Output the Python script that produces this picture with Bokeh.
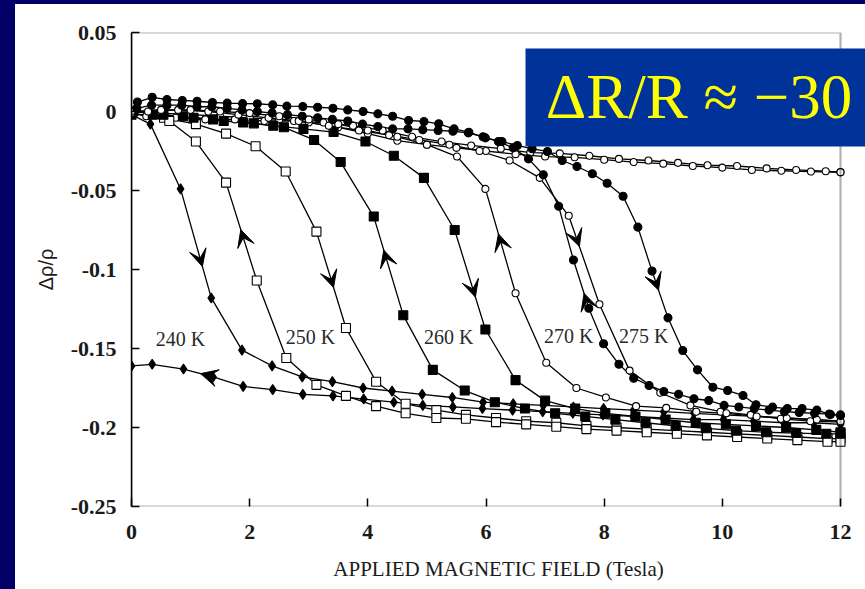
import numpy as np
from bokeh.plotting import figure
from bokeh.models import Range1d, FixedTicker, Label, BoxAnnotation, Arrow, VeeHead, Div
from bokeh.layouts import column, row
from bokeh.embed import file_html
from bokeh.resources import INLINE

# ---------------- data ----------------
x_ticks = [0, 2, 4, 6, 8, 10, 12]
x_tick_labels = ["0", "2", "4", "6", "8", "10", "12"]
y_ticks = [0.05, 0.0, -0.05, -0.1, -0.15, -0.2, -0.25]
y_tick_labels = ["0.05", "0", "-0.05", "-0.1", "-0.15", "-0.2", "-0.25"]

x_240_up = [0.00, 0.32, 0.83, 1.35, 1.87, 2.38, 2.89, 3.40, 3.92, 4.41, 4.92, 5.43, 5.95,
            6.46, 6.97, 7.48, 7.99, 8.50, 9.01, 9.52, 10.03, 10.54, 11.05, 11.56, 12.00]
y_240_up = [-0.002, -0.008, -0.049, -0.118, -0.151, -0.161, -0.168, -0.171, -0.175, -0.177,
            -0.179, -0.181, -0.184, -0.185, -0.186, -0.187, -0.188, -0.189, -0.190, -0.191,
            -0.192, -0.193, -0.194, -0.195, -0.196]
x_240_dn = [0.00, 0.35, 0.88, 1.38, 1.89, 2.39, 2.90, 3.41, 3.93, 4.44, 4.93, 5.44, 5.94,
            6.45, 6.96, 7.47, 7.98, 8.49, 9.00, 9.51, 10.02, 10.53, 11.04, 11.55, 12.00]
y_240_dn = [-0.161, -0.160, -0.163, -0.168, -0.174, -0.176, -0.179, -0.180, -0.182, -0.184,
            -0.186, -0.187, -0.188, -0.189, -0.190, -0.191, -0.192, -0.193, -0.194, -0.195,
            -0.195, -0.196, -0.197, -0.197, -0.198]

x_250_up = [0.00, 0.55, 1.09, 1.60, 2.10, 2.61, 3.13, 3.63, 4.14, 4.64, 5.16, 5.66, 6.17,
            6.68, 7.19, 7.70, 8.21, 8.72, 9.23, 9.74, 10.25, 10.76, 11.27, 11.78, 12.00]
y_250_up = [-0.001, -0.004, -0.008, -0.014, -0.022, -0.038, -0.076, -0.137, -0.171, -0.185,
            -0.189, -0.192, -0.194, -0.196, -0.197, -0.199, -0.200, -0.201, -0.202, -0.203,
            -0.204, -0.205, -0.206, -0.207, -0.207]
x_250_dn = [0.00, 0.64, 1.09, 1.60, 2.12, 2.62, 3.13, 3.63, 4.14, 4.64, 5.16, 5.66, 6.17,
            6.68, 7.19, 7.70, 8.21, 8.72, 9.23, 9.74, 10.25, 10.76, 11.27, 11.78, 12.00]
y_250_dn = [-0.001, -0.006, -0.019, -0.045, -0.107, -0.156, -0.173, -0.180, -0.1865, -0.191,
            -0.194, -0.1945, -0.1966, -0.198, -0.1995, -0.201, -0.202, -0.203, -0.204, -0.205,
            -0.206, -0.207, -0.208, -0.209, -0.209]

x_260_up = [0.00, 0.36, 0.87, 1.38, 1.89, 2.40, 2.91, 3.42, 3.96, 4.44, 4.95, 5.47, 5.99,
            6.50, 7.00, 7.51, 8.02, 8.53, 9.04, 9.55, 10.06, 10.57, 11.08, 11.59, 12.00]
y_260_up = [-0.002, -0.002, -0.003, -0.005, -0.007, -0.009, -0.011, -0.013, -0.019, -0.028,
            -0.042, -0.075, -0.138, -0.170, -0.183, -0.188, -0.191, -0.193, -0.195, -0.197,
            -0.198, -0.199, -0.200, -0.2015, -0.203]
x_260_dn = [0.03, 0.54, 1.05, 1.56, 2.07, 2.58, 3.09, 3.54, 4.10, 4.60, 5.10, 5.64, 6.15,
            6.66, 7.17, 7.68, 8.19, 8.70, 9.21, 9.72, 10.23, 10.74, 11.25, 11.76, 12.00]
y_260_dn = [0.000, -0.002, -0.004, -0.006, -0.0075, -0.010, -0.018, -0.032, -0.0665, -0.129,
            -0.1635, -0.1766, -0.184, -0.188, -0.191, -0.193, -0.195, -0.197, -0.199, -0.2005,
            -0.202, -0.203, -0.2035, -0.204, -0.204]

x_270_up = [0.00, 0.28, 0.79, 1.30, 1.81, 2.32, 2.83, 3.34, 3.85, 4.36, 4.87, 5.38, 5.89,
            6.40, 6.91, 7.40, 7.92, 8.43, 8.95, 9.46, 9.97, 10.48, 10.99, 11.49, 12.00]
y_270_up = [-0.001, 0.000, 0.001, 0.000, -0.002, -0.004, -0.006, -0.009, -0.012, -0.015,
            -0.018, -0.021, -0.025, -0.031, -0.042, -0.066, -0.122, -0.164, -0.178, -0.186,
            -0.190, -0.192, -0.1945, -0.196, -0.1966]
x_270_dn = [0.00, 0.50, 1.00, 1.50, 2.00, 2.50, 3.00, 3.50, 4.00, 4.50, 5.00, 5.51, 5.99,
            6.50, 7.02, 7.53, 8.03, 8.54, 9.05, 9.56, 10.07, 10.58, 11.09, 11.60, 12.00]
y_270_dn = [0.000, 0.001, 0.001, 0.000, -0.001, -0.003, -0.005, -0.008, -0.012, -0.016,
            -0.021, -0.0285, -0.049, -0.115, -0.159, -0.175, -0.181, -0.1865, -0.1876, -0.190,
            -0.191, -0.193, -0.194, -0.195, -0.196]

x_275_up = [0.10, 0.35, 0.60, 0.86, 1.11, 1.37, 1.62, 1.88, 2.13, 2.39,
            2.63, 2.90, 3.15, 3.41, 3.66, 3.92, 4.17, 4.42, 4.69, 4.95,
            5.20, 5.46, 5.71, 5.99, 6.27, 6.53, 6.78, 7.04, 7.29, 7.54,
            7.80, 8.05, 8.32, 8.57, 8.81, 9.08, 9.33, 9.58, 9.84, 10.09,
            10.35, 10.57, 10.85, 11.10, 11.35, 11.60, 11.83, 12.00]
y_275_up = [0.006, 0.009, 0.0076, 0.007, 0.0065, 0.0057, 0.0053, 0.005, 0.0049, 0.0042,
            0.0034, 0.0032, 0.0027, 0.0021, 0.001, 0.000, -0.0015, -0.003, -0.0057, -0.0063,
            -0.0078, -0.011, -0.0131, -0.0167, -0.019, -0.0215, -0.0236, -0.0253, -0.031, -0.0348,
            -0.0394, -0.0454, -0.0536, -0.0732, -0.101, -0.1306, -0.1513, -0.1635, -0.1745, -0.1766,
            -0.1797, -0.1856, -0.1871, -0.188, -0.188, -0.189, -0.1918, -0.1924]
x_275_dn = [0.09, 0.34, 0.60, 0.85, 1.11, 1.36, 1.62, 1.87, 2.13, 2.38,
            2.64, 2.89, 3.15, 3.40, 3.66, 3.91, 4.17, 4.42, 4.68, 4.93,
            5.19, 5.44, 5.70, 5.95, 6.21, 6.46, 6.72, 6.97, 7.23, 7.48,
            7.74, 7.99, 8.25, 8.50, 8.76, 9.01, 9.26, 9.52, 9.77, 10.03,
            10.28, 10.54, 10.79, 11.05, 11.30, 11.56, 11.81, 12.00]
y_275_dn = [0.002, 0.004, 0.004, 0.004, 0.003, 0.003, 0.002, 0.001, 0.000, -0.001,
            -0.002, -0.003, -0.004, -0.005, -0.006, -0.008, -0.0095, -0.011, -0.011, -0.0115,
            -0.012, -0.0125, -0.0135, -0.016, -0.019, -0.023, -0.030, -0.040, -0.060, -0.094,
            -0.1245, -0.147, -0.160, -0.1688, -0.1734, -0.1772, -0.179, -0.1818, -0.1829, -0.186,
            -0.187, -0.188, -0.189, -0.190, -0.1905, -0.191, -0.1915, -0.192]

x_hi_a = [0.0, 0.5, 1.0, 1.5, 2.0, 2.5, 3.0, 3.5, 4.0, 4.5, 5.0, 5.5, 6.0,
          6.5, 7.0, 7.5, 8.0, 8.5, 9.0, 9.5, 10.0, 10.5, 11.0, 11.5, 12.0]
y_hi_a = [0.000, -0.001, -0.002, -0.003, -0.004, -0.005, -0.007, -0.010, -0.014, -0.0185,
          -0.021, -0.023, -0.025, -0.027, -0.0285, -0.029, -0.0305, -0.032, -0.033, -0.0345,
          -0.0355, -0.037, -0.0375, -0.038, -0.0385]
x_hi_b = [0.25, 0.75, 1.25, 1.75, 2.25, 2.75, 3.25, 3.75, 4.25, 4.75, 5.25, 5.75, 6.25,
          6.75, 7.25, 7.75, 8.25, 8.75, 9.25, 9.75, 10.25, 10.75, 11.25, 11.75, 12.0]
y_hi_b = [-0.003, -0.004, -0.005, -0.005, -0.006, -0.006, -0.007, -0.009, -0.012, -0.016,
          -0.019, -0.0215, -0.0235, -0.026, -0.0265, -0.028, -0.030, -0.031, -0.0325, -0.034,
          -0.0345, -0.036, -0.037, -0.0378, -0.0384]

temp_labels = ["240 K", "250 K", "260 K", "270 K", "275 K"]
temp_label_x = [0.83, 3.03, 5.37, 7.40, 8.67]
temp_label_y = [-0.1439, -0.1429, -0.1429, -0.1418, -0.1418]

# ---------------- figure ----------------
SERIF = "Liberation Serif"
PX_PER_T = (840 - 131) / 12.0
X_END = 12 + (865 - 840) / PX_PER_T   # frame runs to the right edge so the caption box fits

p = figure(width=850, height=585, x_range=Range1d(0, X_END), y_range=Range1d(-0.25, 0.05),
           output_backend="svg", toolbar_location=None,
           min_border_left=116, min_border_right=0, min_border_top=28, min_border_bottom=83,
           background_fill_color="white", border_fill_color="white", margin=(0, 0, 0, 0))
p.grid.visible = False
p.outline_line_color = None

p.xaxis.ticker = FixedTicker(ticks=x_ticks)
p.xaxis.major_label_overrides = {t: s for t, s in zip(x_ticks, x_tick_labels)}
p.yaxis.ticker = FixedTicker(ticks=y_ticks)
p.yaxis.major_label_overrides = {t: s for t, s in zip(y_ticks, y_tick_labels)}

for ax in (p.xaxis[0], p.yaxis[0]):
    ax.axis_line_width = 1.5
    ax.axis_line_color = "black"
    ax.major_tick_in = 8
    ax.major_tick_out = 0
    ax.major_tick_line_width = 1.5
    ax.minor_tick_line_color = None
    ax.major_label_text_font = SERIF
    ax.major_label_text_font_style = "bold"
    ax.major_label_text_font_size = "22px"
    ax.major_label_text_color = "#1a1a1a"
p.xaxis.axis_line_color = None

p.xaxis.major_label_standoff = 18
p.yaxis.major_label_standoff = 15
p.xaxis.axis_label = "APPLIED MAGNETIC FIELD (Tesla)"
p.xaxis.axis_label_text_font = SERIF
p.xaxis.axis_label_text_font_style = "normal"
p.xaxis.axis_label_text_font_size = "21px"
p.xaxis.axis_label_standoff = 15
p.xaxis.axis_label_text_color = "#1a1a1a"
p.yaxis.axis_label = "Δρ/ρ"
p.yaxis.axis_label_text_font = "Liberation Sans"
p.yaxis.axis_label_text_font_style = "normal"
p.yaxis.axis_label_text_font_size = "20px"
p.yaxis.axis_label_standoff = 11
p.yaxis.axis_label_text_color = "#1a1a1a"

# plot box (0..12 T, -0.25..0.05)
p.add_layout(BoxAnnotation(left=0, right=12, top=0.05, bottom=-0.25, fill_color=None,
                           fill_alpha=0, line_color="black", line_width=2.2))

series = [
    (x_hi_a, y_hi_a, "circle", 7, "white"),
    (x_hi_b, y_hi_b, "circle", 7, "white"),
    (x_240_up, y_240_up, "diamond", 10, "black"),
    (x_240_dn, y_240_dn, "diamond", 10, "black"),
    (x_250_up, y_250_up, "square", 9, "white"),
    (x_250_dn, y_250_dn, "square", 9, "white"),
    (x_260_up, y_260_up, "square", 9, "black"),
    (x_260_dn, y_260_dn, "square", 9, "black"),
    (x_270_up, y_270_up, "circle", 7, "white"),
    (x_270_dn, y_270_dn, "circle", 7, "white"),
    (x_275_up, y_275_up, "circle", 8, "black"),
    (x_275_dn, y_275_dn, "circle", 8, "black"),
]
for xs, ys, m, s, f in series:
    p.line(xs, ys, line_color="black", line_width=1.3)
for xs, ys, m, s, f in series:
    p.scatter(xs, ys, marker=m, size=s, fill_color=f, line_color="black", line_width=1.1)

# arrowheads along the curves: (x array, y array, position, direction)
arrows = [
    (x_240_up, y_240_up, 1.20, 1), (x_240_dn, y_240_dn, 1.17, -1),
    (x_250_dn, y_250_dn, 1.85, -1), (x_250_up, y_250_up, 3.42, 1),
    (x_260_dn, y_260_dn, 4.27, -1), (x_260_up, y_260_up, 5.82, 1),
    (x_270_dn, y_270_dn, 6.21, -1), (x_270_up, y_270_up, 7.58, 1),
    (x_275_dn, y_275_dn, 7.66, -1), (x_275_up, y_275_up, 8.92, 1),
]
for xs, ys, xa, d in arrows:
    x0 = xa - 0.02 * d
    y0 = float(np.interp(x0, xs, ys))
    y1 = float(np.interp(xa, xs, ys))
    p.add_layout(Arrow(end=VeeHead(size=17, fill_color="black", line_color="black", line_width=1),
                       x_start=x0, y_start=y0, x_end=xa, y_end=y1, line_alpha=0))

for t, lx, ly in zip(temp_labels, temp_label_x, temp_label_y):
    p.add_layout(Label(x=lx, y=ly, text=t, text_align="center", text_baseline="middle",
                       text_font=SERIF, text_font_size="20px", text_color="#2a2a2a"))

# blue caption box
p.add_layout(BoxAnnotation(left=510, right=850, top=44, bottom=142,
                           left_units="canvas", right_units="canvas",
                           top_units="canvas", bottom_units="canvas",
                           fill_color="#003399", fill_alpha=1, line_alpha=0))
p.add_layout(Label(x=7.01, y=0.0089, text="ΔR/R ≈ −30", text_align="left",
                   text_baseline="alphabetic", text_font=SERIF, text_font_size="63px",
                   text_color="#FFFF00"))

# navy slide border (top and left)
top_strip = Div(text="", width=865, height=4, margin=(0, 0, 0, 0),
                styles={"background-color": "#000066"})
left_strip = Div(text="", width=15, height=585, margin=(0, 0, 0, 0),
                 styles={"background-color": "#000066"})
layout = column(top_strip, row(left_strip, p, spacing=0, margin=(0, 0, 0, 0)),
                spacing=0, margin=(0, 0, 0, 0))

open("out.html", "w").write(file_html(layout, INLINE))
